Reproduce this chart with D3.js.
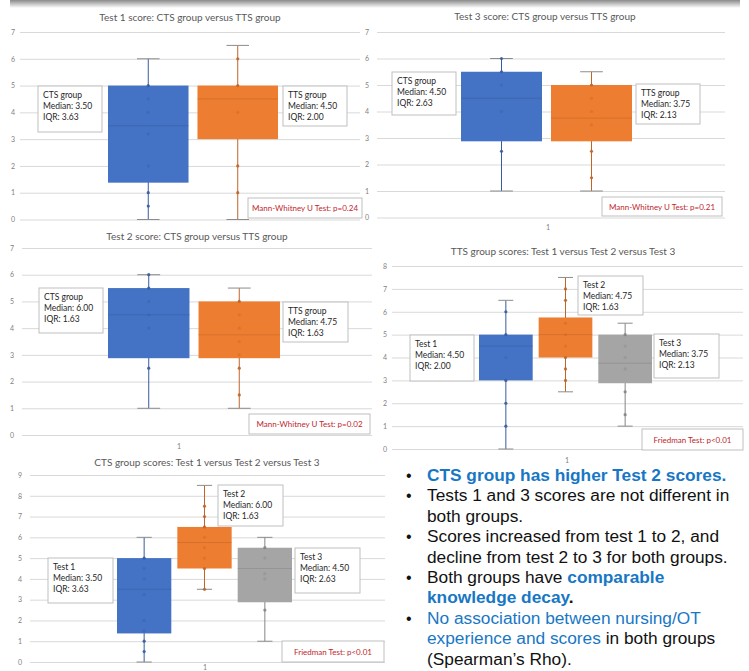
<!DOCTYPE html>
<html>
<head>
<meta charset="utf-8">
<script src="https://cdn.jsdelivr.net/npm/d3@7"></script>
<style>
  body { margin: 0; background: #fff; }
  svg { display: block; }
  text { font-family: Lato, "Open Sans", sans-serif; }
</style>
</head>
<body>
<div id="chart"></div>
<script>
// box plot stats (scores)
const test1Stats = [
  { name: "CTS group", min: 0, q1: 1.375, median: 3.5, q3: 5, max: 6, points: [5, 4.5, 4, 3.2, 2, 1, 0.5] },
  { name: "TTS group", min: 0, q1: 3, median: 4.5, q3: 5, max: 6.5, points: [6, 5, 4, 2, 1] }
];
const test3Stats = [
  { name: "CTS group", min: 1, q1: 2.875, median: 4.5, q3: 5.5, max: 6, points: [6, 5.5, 5, 4, 2.5] },
  { name: "TTS group", min: 1, q1: 2.875, median: 3.75, q3: 5, max: 5.5, points: [5, 4.5, 4, 3.5, 2.5, 1.5] }
];
const test2Stats = [
  { name: "CTS group", min: 1, q1: 2.875, median: 4.5, q3: 5.5, max: 6, points: [6, 5.5, 5, 4.5, 4, 2.5] },
  { name: "TTS group", min: 1, q1: 2.875, median: 3.75, q3: 5, max: 5.5, points: [5, 4.5, 4, 3.5, 3, 2.5, 1.5] }
];
const ttsStats = [
  { name: "Test 1", min: 0, q1: 3, median: 4.5, q3: 5, max: 6.5, points: [6, 5, 4, 3, 2, 1] },
  { name: "Test 2", min: 2.5, q1: 4, median: 5, q3: 5.75, max: 7.5, points: [7, 6.5, 5.5, 5, 4.5, 4, 3.5, 3] },
  { name: "Test 3", min: 1, q1: 2.875, median: 3.75, q3: 5, max: 5.5, points: [5, 4.5, 4, 3.5, 2.5, 1.5] }
];
const ctsStats = [
  { name: "Test 1", min: 0, q1: 1.375, median: 3.5, q3: 5, max: 6, points: [5, 4.5, 4, 3.25, 2, 1.5, 1, 0.5] },
  { name: "Test 2", min: 3.5, q1: 4.5, median: 5.75, q3: 6.5, max: 8.5, points: [7.5, 7, 6.5, 6, 5.5, 5, 4.5, 3.5] },
  { name: "Test 3", min: 1, q1: 2.875, median: 4.5, q3: 5.5, max: 6, points: [5.5, 5, 4.25, 4, 2.5] }
];

// annotation texts
const test1Notes = [["CTS group", "Median: 3.50", "IQR: 3.63"], ["TTS group", "Median: 4.50", "IQR: 2.00"]];
const test3Notes = [["CTS group", "Median: 4.50", "IQR: 2.63"], ["TTS group", "Median: 3.75", "IQR: 2.13"]];
const test2Notes = [["CTS group", "Median: 6.00", "IQR: 1.63"], ["TTS group", "Median: 4.75", "IQR: 1.63"]];
const ttsNotes = [["Test 1", "Median: 4.50", "IQR: 2.00"], ["Test 2", "Median: 4.75", "IQR: 1.63"], ["Test 3", "Median: 3.75", "IQR: 2.13"]];
const ctsNotes = [["Test 1", "Median: 3.50", "IQR: 3.63"], ["Test 2", "Median: 6.00", "IQR: 1.63"], ["Test 3", "Median: 4.50", "IQR: 2.63"]];

const panelTitles = [
  "Test 1 score: CTS group versus TTS group",
  "Test 3 score: CTS group versus TTS group",
  "Test 2 score: CTS group versus TTS group",
  "TTS group scores: Test 1 versus Test 2 versus Test 3",
  "CTS group scores: Test 1 versus Test 2 versus Test 3"
];
const testResults = ["Mann-Whitney U Test: p=0.24", "Mann-Whitney U Test: p=0.21",
  "Mann-Whitney U Test: p=0.02", "Friedman Test: p<0.01", "Friedman Test: p<0.01"];

const seriesColors = ["#4472C4", "#ED7D31", "#A5A5A5"];

const width = 749, height = 671;
const svg = d3.select("#chart").append("svg")
  .attr("width", width)
  .attr("height", height);

// soft shadow band at the very top
const grad = svg.append("defs").append("linearGradient")
  .attr("id", "topShade").attr("x1", 0).attr("y1", 0).attr("x2", 0).attr("y2", 1);
grad.append("stop").attr("offset", "0%").attr("stop-color", "#8a8a8a");
grad.append("stop").attr("offset", "100%").attr("stop-color", "#ffffff");
svg.append("rect").attr("x", 10).attr("y", 0).attr("width", 730).attr("height", 8)
  .attr("fill", "url(#topShade)");

function drawPanel(cfg) {
  const g = svg.append("g");
  const y = d3.scaleLinear().domain([0, cfg.yMax]).range([cfg.bottom, cfg.top]);
  const x = d3.scaleBand()
    .domain(cfg.stats.map(d => d.name))
    .range(cfg.boxRange)
    .paddingInner(0.1);

  // gridlines + tick labels
  const axis = g.append("g")
    .attr("transform", `translate(${cfg.left},0)`)
    .call(d3.axisLeft(y).ticks(cfg.yMax).tickSize(-(cfg.right - cfg.left)).tickPadding(cfg.pad));
  axis.select(".domain").remove();
  axis.selectAll(".tick line").attr("stroke", "#d9d9d9");
  axis.selectAll(".tick text").attr("fill", "#7f7f7f").style("font-size", "7px");

  // title
  g.append("text")
    .attr("x", cfg.titleX).attr("y", cfg.titleY)
    .attr("text-anchor", "middle")
    .attr("fill", "#595959")
    .style("font-size", "10px")
    .text(cfg.title);

  // category label
  if (cfg.catY) {
    g.append("text")
      .attr("x", cfg.catX).attr("y", cfg.catY)
      .attr("text-anchor", "middle")
      .attr("fill", "#7f7f7f")
      .style("font-size", "7px")
      .text("1");
  }

  cfg.stats.forEach((d, i) => {
    const color = seriesColors[i];
    const dark = d3.color(color).darker(0.6);
    const bw = x.bandwidth();
    const x0 = x(d.name);
    const cx = x0 + bw / 2;
    const capW = bw * 0.28;

    // whisker
    g.append("line")
      .attr("x1", cx).attr("x2", cx)
      .attr("y1", y(d.min)).attr("y2", y(d.max))
      .attr("stroke", dark).attr("stroke-width", 1);
    [d.min, d.max].forEach(v => {
      g.append("line")
        .attr("x1", cx - capW / 2).attr("x2", cx + capW / 2)
        .attr("y1", y(v)).attr("y2", y(v))
        .attr("stroke", "#8c8c8c").attr("stroke-width", 1);
    });

    // box
    g.append("rect")
      .attr("x", x0).attr("y", y(d.q3))
      .attr("width", bw).attr("height", y(d.q1) - y(d.q3))
      .attr("fill", color);

    // median
    g.append("line")
      .attr("x1", x0).attr("x2", x0 + bw)
      .attr("y1", y(d.median)).attr("y2", y(d.median))
      .attr("stroke", dark).attr("stroke-opacity", 0.5);

    // data points
    g.selectAll(null)
      .data(d.points)
      .enter()
      .append("circle")
      .attr("cx", cx)
      .attr("cy", v => y(v))
      .attr("r", 1.6)
      .attr("fill", dark)
      .attr("fill-opacity", v => (v > d.q1 && v < d.q3) ? 0.35 : 0.9);
  });

  // note boxes
  cfg.notes.forEach((lines, i) => {
    const p = cfg.notePos[i];
    const nb = g.append("g").attr("transform", `translate(${p[0]},${p[1]})`);
    nb.append("rect")
      .attr("width", p[2]).attr("height", p[3])
      .attr("fill", "#fff").attr("stroke", "#bfbfbf");
    lines.forEach((t, j) => {
      nb.append("text")
        .attr("x", 5).attr("y", 12 + j * 11)
        .attr("fill", "#262626")
        .style("font-size", "8.5px")
        .text(t);
    });
  });

  // statistical test box
  const r = cfg.testPos;
  const tb = g.append("g").attr("transform", `translate(${r[0]},${r[1]})`);
  tb.append("rect").attr("width", r[2]).attr("height", r[3])
    .attr("fill", "#fff").attr("stroke", "#bfbfbf");
  tb.append("text")
    .attr("x", r[2] / 2).attr("y", r[3] / 2 + 3)
    .attr("text-anchor", "middle")
    .attr("fill", "#c0262d")
    .style("font-size", "8px")
    .text(cfg.test);
}

// Test 1
drawPanel({
  stats: test1Stats, notes: test1Notes, title: panelTitles[0], test: testResults[0],
  yMax: 7, top: 32, bottom: 219.5, left: 20, right: 360, pad: 5,
  boxRange: [108, 278], titleX: 190, titleY: 21,
  notePos: [[38, 86, 64, 46], [283, 86, 64, 40]],
  testPos: [248, 198, 114, 20]
});

// Test 3
drawPanel({
  stats: test3Stats, notes: test3Notes, title: panelTitles[1], test: testResults[1],
  yMax: 7, top: 32, bottom: 217.5, left: 377, right: 725, pad: 8,
  boxRange: [461, 632], titleX: 545, titleY: 20, catX: 548, catY: 230,
  notePos: [[392, 72, 64, 43], [636, 84, 64, 40]],
  testPos: [602, 197, 120, 19]
});

// Test 2
drawPanel({
  stats: test2Stats, notes: test2Notes, title: panelTitles[2], test: testResults[2],
  yMax: 7, top: 248, bottom: 435, left: 22, right: 372, pad: 8,
  boxRange: [108, 280], titleX: 197, titleY: 240, catX: 179, catY: 449,
  notePos: [[39, 288, 64, 45], [283, 302, 65, 40]],
  testPos: [249, 414, 121, 20]
});

// TTS group scores
drawPanel({
  stats: ttsStats, notes: ttsNotes, title: panelTitles[3], test: testResults[3],
  yMax: 8, top: 266, bottom: 449, left: 392, right: 743, pad: 5,
  boxRange: [479, 652], titleX: 563, titleY: 255, catX: 567, catY: 463,
  notePos: [[410, 335, 64, 46], [578, 276, 65, 39], [654, 334, 65, 44]],
  testPos: [642, 429, 101, 21]
});

// CTS group scores
drawPanel({
  stats: ctsStats, notes: ctsNotes, title: panelTitles[4], test: testResults[4],
  yMax: 9, top: 475, bottom: 662, left: 30, right: 385, pad: 8,
  boxRange: [117, 292], titleX: 207, titleY: 466, catX: 205, catY: 669.5,
  notePos: [[48, 558, 65, 45], [218, 485, 65, 41], [295, 548, 65, 45]],
  testPos: [282, 641, 102, 21]
});

// summary bullets
const bulletLines = [
  { bullet: true, parts: [{ t: "CTS group has higher Test 2 scores.", blue: true, bold: true }] },
  { bullet: true, parts: [{ t: "Tests 1 and 3 scores are not different in" }] },
  { bullet: false, parts: [{ t: "both groups." }] },
  { bullet: true, parts: [{ t: "Scores increased from test 1 to 2, and" }] },
  { bullet: false, parts: [{ t: "decline from test 2 to 3 for both groups." }] },
  { bullet: true, parts: [{ t: "Both groups have " }, { t: "comparable", blue: true, bold: true }] },
  { bullet: false, parts: [{ t: "knowledge decay", blue: true, bold: true }, { t: ".", bold: true }] },
  { bullet: true, parts: [{ t: "No association between nursing/OT", blue: true }] },
  { bullet: false, parts: [{ t: "experience and scores", blue: true }, { t: " in both groups" }] },
  { bullet: false, parts: [{ t: "(Spearman\u2019s Rho)." }] }
];

const notes = svg.append("g").attr("class", "bullets");
bulletLines.forEach((line, i) => {
  const yy = 481 + i * 20.4;
  if (line.bullet) {
    notes.append("text")
      .attr("x", 406).attr("y", yy)
      .style("font-family", "'Liberation Sans', Arial, sans-serif")
      .style("font-size", "16px")
      .attr("fill", "#111")
      .text("\u2022");
  }
  const t = notes.append("text")
    .attr("x", 427).attr("y", yy)
    .style("font-family", "'Liberation Sans', Arial, sans-serif")
    .style("font-size", "17.3px");
  line.parts.forEach(p => {
    t.append("tspan")
      .attr("fill", p.blue ? "#1877c5" : "#111")
      .attr("font-weight", p.bold ? "bold" : "normal")
      .text(p.t);
  });
});
</script>
</body>
</html>
